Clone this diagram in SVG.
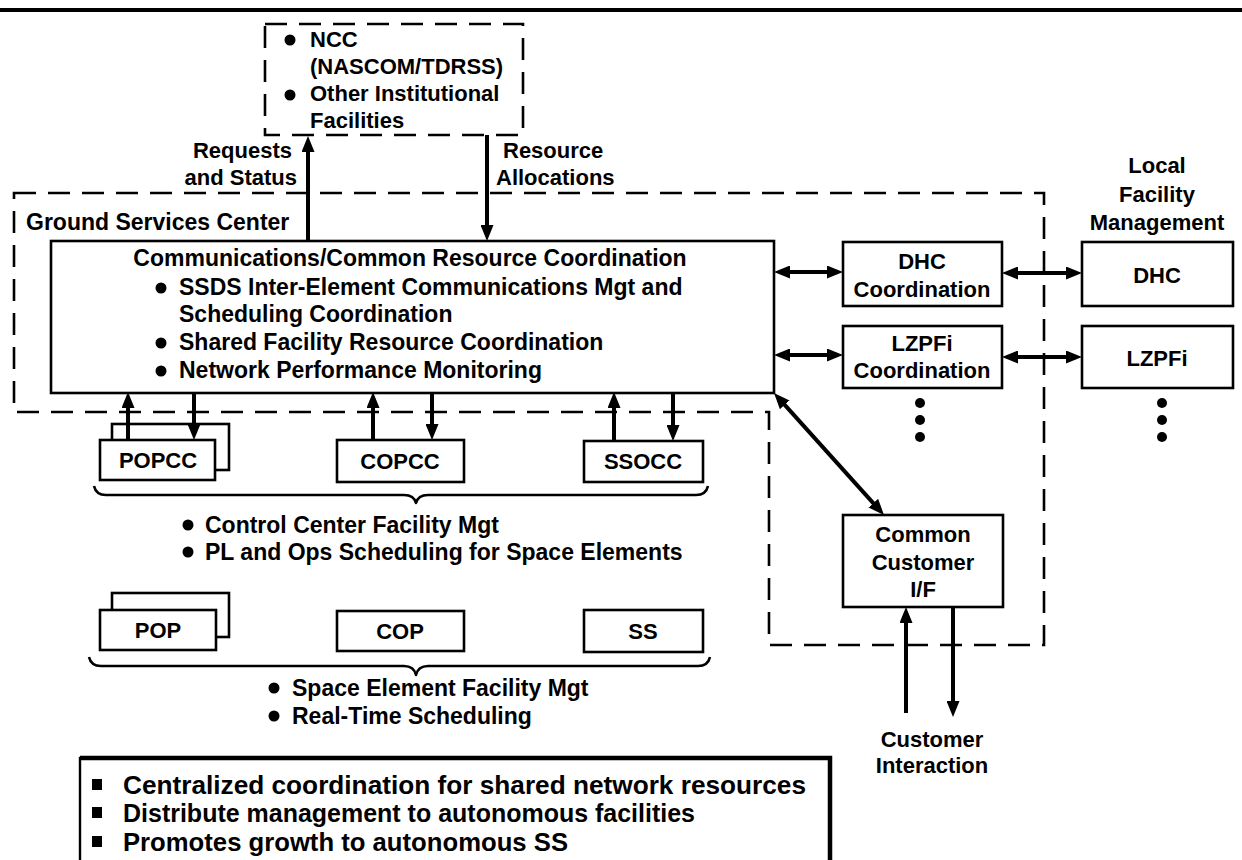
<svg xmlns="http://www.w3.org/2000/svg" width="1242" height="860" viewBox="0 0 1242 860">
  <style>
    text { font-family: "Liberation Sans", Arial, Helvetica, sans-serif; font-weight: bold; fill: #000; }
    .t22 { font-size: 22px; }
    .t23 { font-size: 23px; }
    .t26 { font-size: 26px; }
    .mid { text-anchor: middle; }
    .end { text-anchor: end; }
    .box { fill: #fff; stroke: #000; stroke-width: 2.6; }
    .dash { fill: none; stroke: #000; stroke-width: 2.6; stroke-dasharray: 22 12; }
    .conn { fill: none; stroke: #000; stroke-width: 4; }
    .uni { marker-end: url(#head); }
    .bi { marker-start: url(#head); marker-end: url(#head); }
    .brace { fill: none; stroke: #000; stroke-width: 2.6; stroke-linejoin: round; }
  </style>
  <defs>
    <marker id="head" markerUnits="userSpaceOnUse" markerWidth="16" markerHeight="13" refX="6" refY="6.5" orient="auto-start-reverse">
      <path d="M0,0 L16,6.5 L0,13 z" fill="#000"/>
    </marker>
  </defs>

  <rect width="1242" height="860" fill="#fff"/>

  <!-- page rule -->
  <line x1="0" y1="10" x2="1242" y2="10" stroke="#000" stroke-width="4"/>

  <!-- external institutional facilities -->
  <g id="ncc">
    <rect class="dash" x="265" y="24" width="258" height="111"/>
    <circle cx="290" cy="40" r="5.5"/>
    <text class="t22" x="310" y="47">NCC</text>
    <text class="t22" x="310" y="74">(NASCOM/TDRSS)</text>
    <circle cx="290" cy="95" r="5.5"/>
    <text class="t22" x="310" y="101">Other Institutional</text>
    <text class="t22" x="310" y="128">Facilities</text>
  </g>

  <!-- ground services center boundary -->
  <g id="gsc">
    <path class="dash" d="M14,193 H1044 V645 H769 V412 H14 Z"/>
    <text class="t23" x="26" y="230">Ground Services Center</text>
  </g>

  <g id="labels">
    <text class="t22 end" x="292" y="158">Requests</text>
    <text class="t22 end" x="297" y="185">and Status</text>
    <text class="t22" x="503" y="158">Resource</text>
    <text class="t22" x="496" y="185">Allocations</text>
    <text class="t22 mid" x="1157" y="173">Local</text>
    <text class="t22 mid" x="1157" y="202">Facility</text>
    <text class="t22 mid" x="1157" y="230">Management</text>
  </g>

  <g id="comm-coord">
    <rect class="box" x="51" y="241" width="723" height="152"/>
    <text class="t23 mid" x="410" y="266">Communications/Common Resource Coordination</text>
    <circle cx="161" cy="288" r="5.5"/>
    <text class="t23" x="179" y="295">SSDS Inter-Element Communications Mgt and</text>
    <text class="t23" x="179" y="322">Scheduling Coordination</text>
    <circle cx="161" cy="343" r="5.5"/>
    <text class="t23" x="179" y="350">Shared Facility Resource Coordination</text>
    <circle cx="161" cy="371" r="5.5"/>
    <text class="t23" x="179" y="378">Network Performance Monitoring</text>
  </g>

  <g id="dhc-coord">
    <rect class="box" x="843" y="242" width="159" height="64"/>
    <text class="t22 mid" x="922" y="269">DHC</text>
    <text class="t22 mid" x="922" y="297">Coordination</text>
  </g>
  <g id="lzpfi-coord">
    <rect class="box" x="843" y="326" width="159" height="62"/>
    <text class="t22 mid" x="922" y="351">LZPFi</text>
    <text class="t22 mid" x="922" y="378">Coordination</text>
    <circle cx="920" cy="403" r="5"/>
    <circle cx="920" cy="420" r="5"/>
    <circle cx="920" cy="437" r="5"/>
  </g>
  <g id="dhc">
    <rect class="box" x="1082" y="242" width="151" height="64"/>
    <text class="t22 mid" x="1157" y="283">DHC</text>
  </g>
  <g id="lzpfi">
    <rect class="box" x="1082" y="326" width="151" height="62"/>
    <text class="t22 mid" x="1157" y="366">LZPFi</text>
    <circle cx="1162" cy="403" r="5"/>
    <circle cx="1162" cy="420" r="5"/>
    <circle cx="1162" cy="437" r="5"/>
  </g>

  <g id="popcc">
    <rect class="box" x="112" y="424" width="117" height="46"/>
    <rect class="box" x="100" y="440" width="115" height="40"/>
    <text class="t22 mid" x="158" y="468">POPCC</text>
  </g>
  <g id="copcc">
    <rect class="box" x="337" y="440" width="127" height="42"/>
    <text class="t22 mid" x="400" y="469">COPCC</text>
  </g>
  <g id="ssocc">
    <rect class="box" x="584" y="441" width="119" height="41"/>
    <text class="t22 mid" x="643" y="469">SSOCC</text>
  </g>

  <g id="cc-brace">
    <path class="brace" d="M94,486 Q96,495 106,495 H404 Q414,495 416,503 Q418,495 428,495 H696 Q706,495 708,486"/>
    <circle cx="188" cy="525" r="5.5"/>
    <text class="t23" x="205" y="533">Control Center Facility Mgt</text>
    <circle cx="188" cy="552" r="5.5"/>
    <text class="t23" x="205" y="560">PL and Ops Scheduling for Space Elements</text>
  </g>

  <g id="pop">
    <rect class="box" x="112" y="593" width="117" height="44"/>
    <rect class="box" x="100" y="610" width="116" height="40"/>
    <text class="t22 mid" x="158" y="638">POP</text>
  </g>
  <g id="cop">
    <rect class="box" x="337" y="611" width="127" height="40"/>
    <text class="t22 mid" x="400" y="639">COP</text>
  </g>
  <g id="ss">
    <rect class="box" x="584" y="610" width="119" height="42"/>
    <text class="t22 mid" x="643" y="639">SS</text>
  </g>

  <g id="se-brace">
    <path class="brace" d="M89,657 Q91,666 101,666 H404 Q414,666 416,675 Q418,666 428,666 H698 Q708,666 710,657"/>
    <circle cx="274" cy="688" r="5.5"/>
    <text class="t23" x="292" y="696">Space Element Facility Mgt</text>
    <circle cx="274" cy="716" r="5.5"/>
    <text class="t23" x="292" y="724">Real-Time Scheduling</text>
  </g>

  <g id="customer-if">
    <rect class="box" x="843" y="515" width="160" height="92"/>
    <text class="t22 mid" x="923" y="542">Common</text>
    <text class="t22 mid" x="923" y="570">Customer</text>
    <text class="t22 mid" x="923" y="597">I/F</text>
  </g>
  <g id="customer">
    <text class="t22 mid" x="932" y="747">Customer</text>
    <text class="t22 mid" x="932" y="773">Interaction</text>
  </g>

  <!-- connectors -->
  <g id="connectors">
    <line class="conn uni" x1="308" y1="241" x2="308" y2="146"/>
    <line class="conn uni" x1="487" y1="135" x2="487" y2="231"/>
    <line class="conn bi" x1="784" y1="272" x2="833" y2="272"/>
    <line class="conn bi" x1="784" y1="355" x2="833" y2="355"/>
    <line class="conn bi" x1="1012" y1="273" x2="1072" y2="273"/>
    <line class="conn bi" x1="1012" y1="357" x2="1072" y2="357"/>
    <line class="conn uni" x1="128" y1="440" x2="128" y2="402"/>
    <line class="conn uni" x1="194" y1="393" x2="194" y2="430"/>
    <line class="conn uni" x1="373" y1="440" x2="373" y2="402"/>
    <line class="conn uni" x1="432" y1="393" x2="432" y2="430"/>
    <line class="conn uni" x1="614" y1="441" x2="614" y2="402"/>
    <line class="conn uni" x1="673" y1="393" x2="673" y2="431"/>
    <line class="conn bi" x1="780.7" y1="400.4" x2="877.3" y2="507.6"/>
    <line class="conn uni" x1="906" y1="713" x2="906" y2="617"/>
    <line class="conn uni" x1="953" y1="607" x2="953" y2="707"/>
  </g>

  <!-- summary panel -->
  <g id="summary">
    <rect x="80" y="758" width="750" height="120" fill="#fff" stroke="#000" stroke-width="2.4"/>
    <path d="M80,758 H830 V860" fill="none" stroke="#000" stroke-width="4.5"/>
    <rect x="92" y="779" width="10" height="11"/>
    <text class="t26" x="123" y="794" textLength="683" lengthAdjust="spacingAndGlyphs">Centralized coordination for shared network resources</text>
    <rect x="92" y="807" width="10" height="11"/>
    <text class="t26" x="123" y="822" textLength="572" lengthAdjust="spacingAndGlyphs">Distribute management to autonomous facilities</text>
    <rect x="92" y="836" width="10" height="11"/>
    <text class="t26" x="123" y="851" textLength="445" lengthAdjust="spacingAndGlyphs">Promotes growth to autonomous SS</text>
  </g>
</svg>
